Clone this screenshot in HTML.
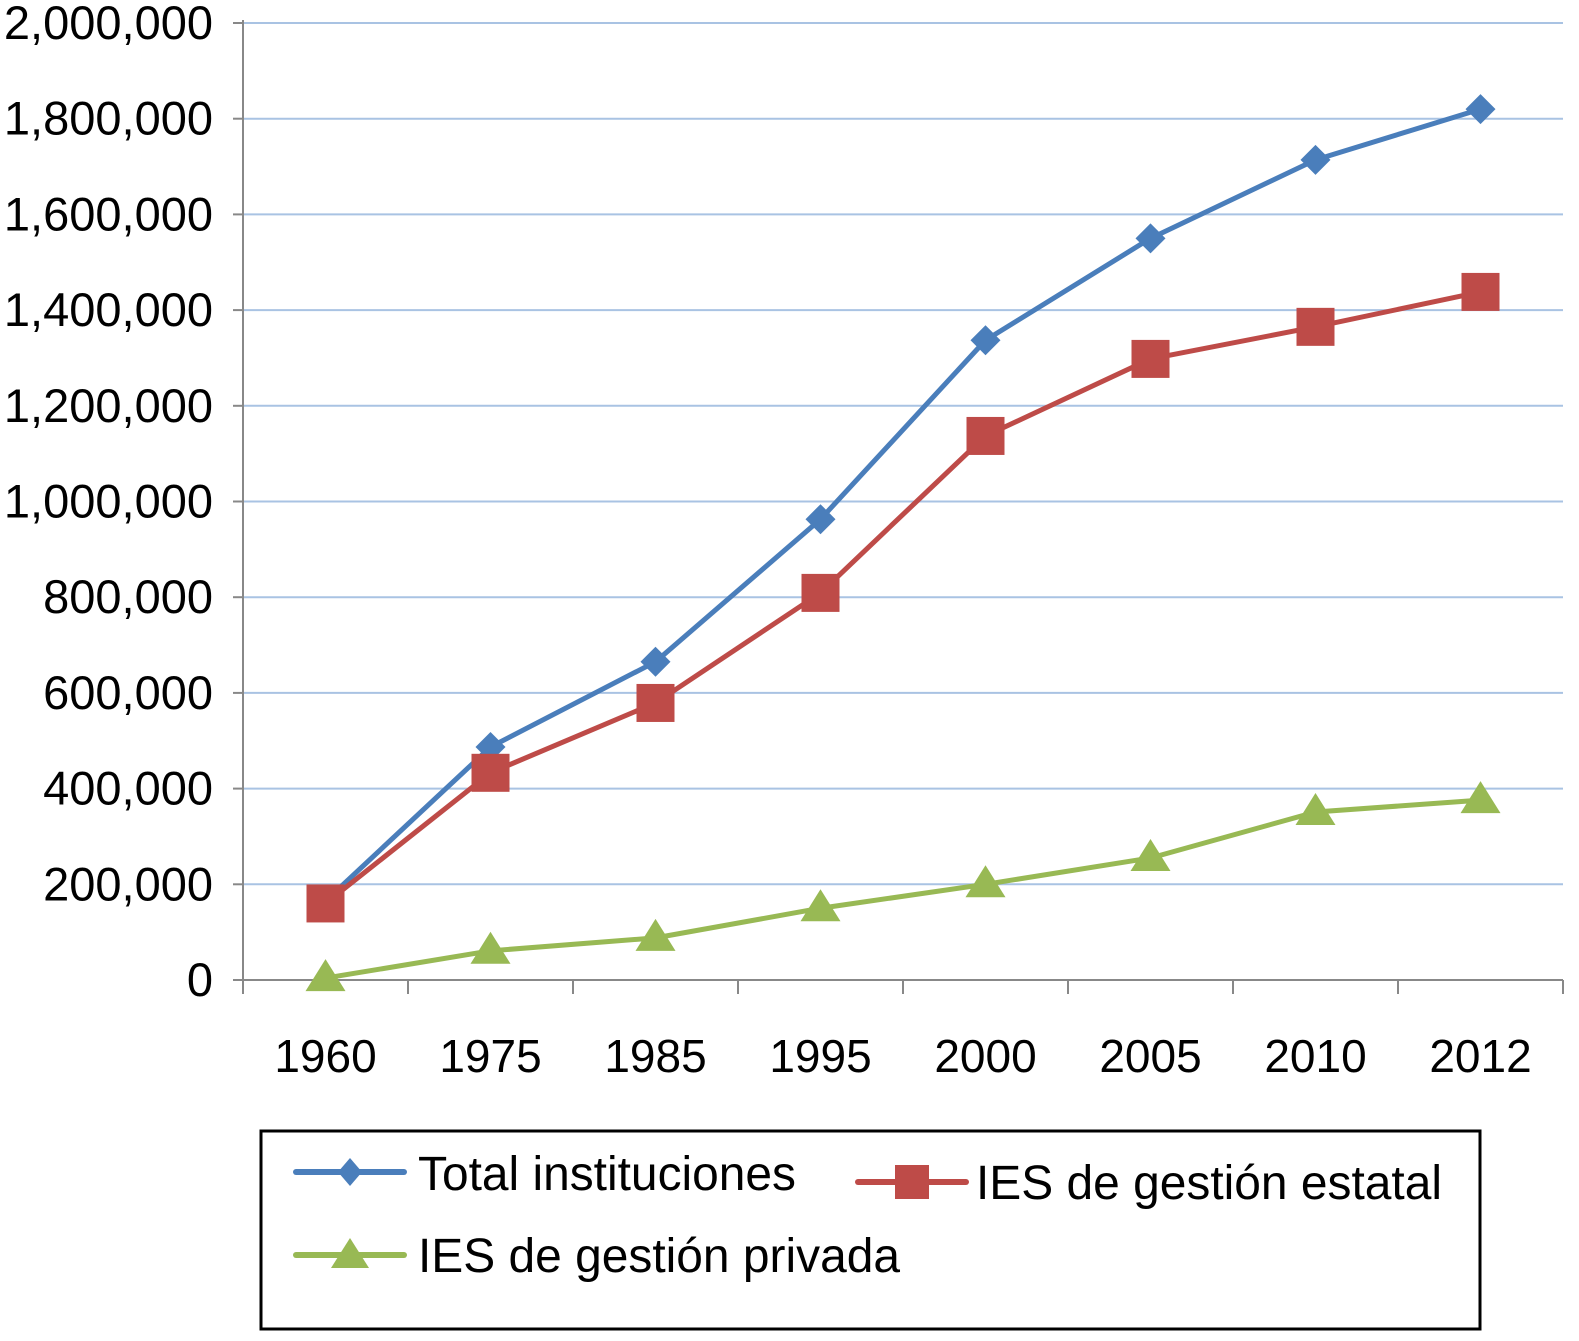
<!DOCTYPE html>
<html><head><meta charset="utf-8"><style>
html,body{margin:0;padding:0;background:#fff;}
svg{display:block;font-family:"Liberation Sans",Arial,sans-serif;}
</style></head><body>
<svg id="chart" width="1579" height="1341" viewBox="0 0 1579 1341" xmlns="http://www.w3.org/2000/svg">
<g id="grid"></g>
<g id="axes"></g>
<g id="series"></g>
<g id="legend">
<rect x="261" y="1131" width="1219" height="198" fill="#fff" stroke="#000" stroke-width="3"/>
<g>
<line x1="296" y1="1172" x2="404" y2="1172" stroke="#4a7ebb" stroke-width="6" stroke-linecap="round"/>
<polygon points="350,1158 362,1172 350,1186 338,1172" fill="#4a7ebb"/>
<text x="418" y="1190" font-size="48" textLength="378" lengthAdjust="spacingAndGlyphs">Total instituciones</text>
</g>
<g>
<line x1="858" y1="1182" x2="966" y2="1182" stroke="#be4b48" stroke-width="6" stroke-linecap="round"/>
<rect x="895" y="1165" width="34" height="34" fill="#be4b48"/>
<text x="976" y="1199" font-size="48" textLength="466" lengthAdjust="spacingAndGlyphs">IES de gestión estatal</text>
</g>
<g>
<line x1="296" y1="1255" x2="404" y2="1255" stroke="#98b954" stroke-width="6" stroke-linecap="round"/>
<polygon points="350,1238 369,1268 331,1268" fill="#98b954"/>
<text x="418" y="1272" font-size="48" textLength="482" lengthAdjust="spacingAndGlyphs">IES de gestión privada</text>
</g>
</g>
</svg>
<script>
const categories = ["1960","1975","1985","1995","2000","2005","2010","2012"];
const totalValues = [165000,487000,665000,963000,1337000,1550000,1714000,1820000];
const estatalValues = [160000,433000,579000,809000,1137000,1298000,1365000,1438000];
const privadaValues = [4000,61000,88000,150000,200000,255000,351000,376000];
const yTicks = [0,200000,400000,600000,800000,1000000,1200000,1400000,1600000,1800000,2000000];
const yTickLabels = ["0","200,000","400,000","600,000","800,000","1,000,000","1,200,000","1,400,000","1,600,000","1,800,000","2,000,000"];

const NS="http://www.w3.org/2000/svg";
const x0=243,x1=1563,y0=980,y1=23,yMax=2000000;
const step=(x1-x0)/categories.length;
function xPos(i){return x0+step*(i+0.5);}
function yPos(v){return y0-(v/yMax)*(y0-y1);}
function mk(tag,attrs,parent){const e=document.createElementNS(NS,tag);for(const k in attrs)e.setAttribute(k,attrs[k]);parent.appendChild(e);return e;}
const grid=document.getElementById('grid'),axes=document.getElementById('axes'),series=document.getElementById('series');
yTicks.forEach((v,i)=>{
  const y=yPos(v);
  if(v>0){const g=mk('line',{x1:x0,x2:x1,y1:y,y2:y,stroke:'#a9c3e3','stroke-width':2},grid);
  
  }
  mk('line',{x1:x0-10,x2:x0,y1:y,y2:y,stroke:'#888','stroke-width':2},axes);
  const t=mk('text',{x:213,y:y+16,'font-size':47,'text-anchor':'end'},axes);
  t.textContent=yTickLabels[i];
  
  
});
const ya=mk('line',{x1:x0,x2:x0,y1:y1-3,y2:y0+12,stroke:'#888','stroke-width':2},axes);


const xa=mk('line',{x1:x0,x2:x1,y1:y0,y2:y0,stroke:'#888','stroke-width':2},axes);


for(let i=0;i<=categories.length;i++){const x=x0+step*i;mk('line',{x1:x,x2:x,y1:y0,y2:y0+14,stroke:'#888','stroke-width':2},axes);}
categories.forEach((c,i)=>{
  const t=mk('text',{x:xPos(i),y:1072,'font-size':46,'text-anchor':'middle'},axes);
  t.textContent=c;
  
  
});
function drawSeries(vals,color,shape,name){
  const g=mk('g',{},series);
  
  
  mk('polyline',{points:vals.map((v,i)=>xPos(i)+','+yPos(v)).join(' '),fill:'none',stroke:color,'stroke-width':5,'stroke-linejoin':'round'},g);
  vals.forEach((v,i)=>{
    const x=xPos(i),y=yPos(v);let m;
    if(shape==='diamond')m=mk('polygon',{points:`${x},${y-15} ${x+15},${y} ${x},${y+15} ${x-15},${y}`,fill:color},g);
    else if(shape==='square')m=mk('rect',{x:x-19,y:y-19,width:38,height:38,fill:color},g);
    else m=mk('polygon',{points:`${x},${y-19} ${x+20},${y+13} ${x-20},${y+13}`,fill:color},g);
    
    
  });
}
drawSeries(totalValues,'#4a7ebb','diamond','series-total');
drawSeries(estatalValues,'#be4b48','square','series-estatal');
drawSeries(privadaValues,'#98b954','triangle','series-privada');
</script>
</body></html>
